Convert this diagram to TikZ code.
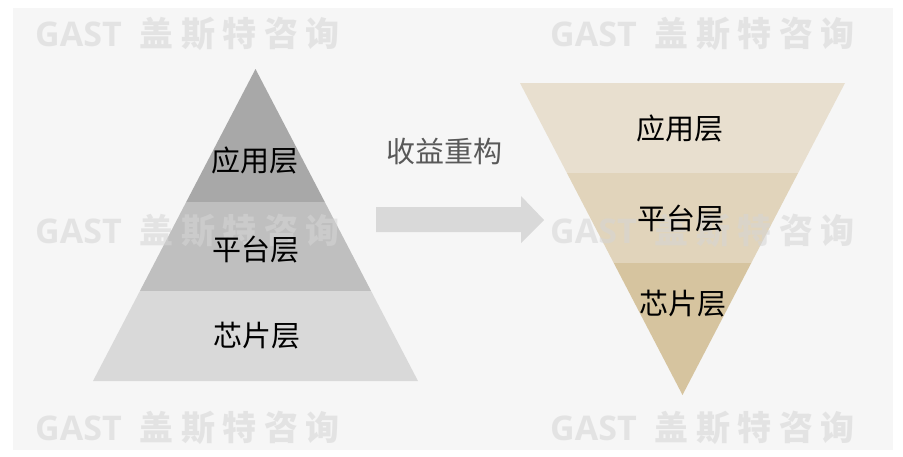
\documentclass[tikz,border=0pt]{standalone}
\usepackage{fontspec}
\newfontfamily\cjk{Noto Sans CJK SC}
\newfontfamily\wmlat{Open Sans}
\definecolor{panel}{HTML}{F6F6F6}
\definecolor{lA}{HTML}{A8A8A8}
\definecolor{lB}{HTML}{BFBFBF}
\definecolor{lC}{HTML}{D9D9D9}
\definecolor{rA}{HTML}{E8DFCF}
\definecolor{rB}{HTML}{E1D4BB}
\definecolor{rC}{HTML}{D6C49F}
\definecolor{arrowgray}{HTML}{D9D9D9}
\definecolor{wm}{HTML}{D5D5D5}
\definecolor{lbl}{HTML}{595959}
\tikzset{
  layer/.style={font=\cjk\fontsize{29}{32}\selectfont, text=black, inner sep=0pt},
  wmark/.style={font=\fontsize{34}{36}\selectfont\bfseries, text=wm, text opacity=0.55, inner sep=0pt, anchor=west},
}
\newcommand{\wmtext}{{\wmlat\bfseries GAST}\hspace{18pt}{\cjk\bfseries\addfontfeature{LetterSpace=22}盖斯特咨询}}
\begin{document}
\begin{tikzpicture}[x=1pt,y=-1pt]
\useasboundingbox (0,0) rectangle (903,456);
\fill[white] (0,0) rectangle (903,456);
\fill[panel] (13,8) rectangle (893,450);
% left pyramid
\fill[lA] (255.5,69) -- (324.8,202) -- (186.2,202) -- cycle;
\fill[lB] (186.2,202) -- (324.8,202) -- (371.1,291) -- (139.9,291) -- cycle;
\fill[lC] (139.9,291) -- (371.1,291) -- (418,381) -- (93,381) -- cycle;
% right inverted pyramid
\fill[rA] (520,83) -- (845,83) -- (798.1,173) -- (566.9,173) -- cycle;
\fill[rB] (566.9,173) -- (798.1,173) -- (751.25,263) -- (613.75,263) -- cycle;
\fill[rC] (613.75,263) -- (751.25,263) -- (682.5,395) -- cycle;
% arrow
\fill[arrowgray] (376,207) -- (521,207) -- (521,196) -- (544,220) -- (521,243) -- (521,232) -- (376,232) -- cycle;
% watermarks
\foreach \n/\x/\y in {w1/35/34, w2/550/34, w3/35/231, w4/550/231, w5/35/428, w6/550/428}
  \node[wmark] (\n) at (\x,\y) {\wmtext};
% labels
\node[layer] (la) at (255,160) {应用层};
\node[layer] (lb) at (256,250) {平台层};
\node[layer] (lc) at (257,336) {芯片层};
\node[layer] (ra) at (680,128) {应用层};
\node[layer] (rb) at (681,219) {平台层};
\node[layer] (rc) at (683,304) {芯片层};
\node[layer, text=lbl] (t) at (444.5,151) {收益重构};
\end{tikzpicture}
\end{document}
